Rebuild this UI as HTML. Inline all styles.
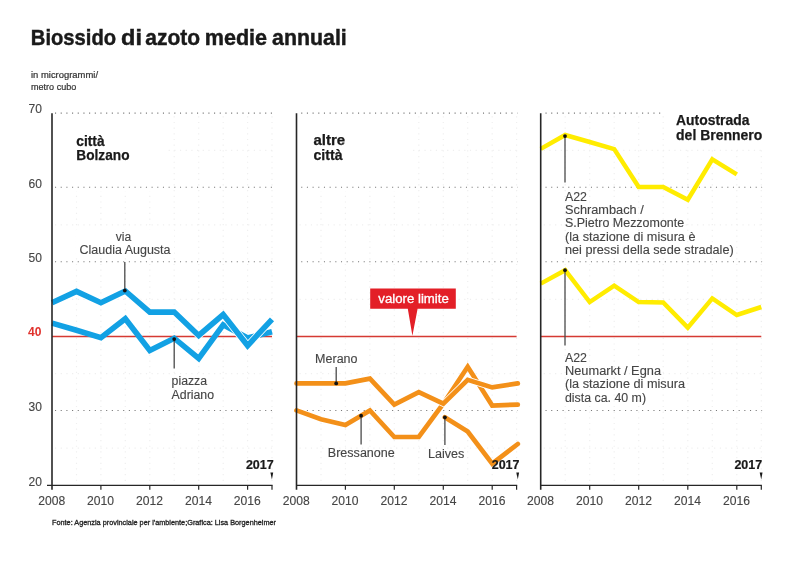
<!DOCTYPE html>
<html lang="it"><head><meta charset="utf-8"><title>Biossido di azoto medie annuali</title>
<style>
html,body{margin:0;padding:0;background:#fff;}
body{width:800px;height:565px;overflow:hidden;font-family:"Liberation Sans",sans-serif;}
svg{display:block;}
text{font-family:"Liberation Sans",sans-serif;}
.t{fill:#454545;font-size:12px;stroke:#454545;stroke-width:0.12px;}
.b{fill:#1a1a1a;font-weight:bold;}
</style></head><body>
<svg width="800" height="565" viewBox="0 0 800 565">
<rect width="800" height="565" fill="#fff"/>

<text class="b" y="45" style="font-size:22px;stroke:#1a1a1a;stroke-width:0.45"><tspan x="30.8" textLength="85.3" lengthAdjust="spacingAndGlyphs">Biossido</tspan> <tspan x="121.1" textLength="20.9" lengthAdjust="spacingAndGlyphs">di</tspan> <tspan x="145.3" textLength="54.8" lengthAdjust="spacingAndGlyphs">azoto</tspan> <tspan x="204.7" textLength="62.4" lengthAdjust="spacingAndGlyphs">medie</tspan> <tspan x="272.1" textLength="74.7" lengthAdjust="spacingAndGlyphs">annuali</tspan></text>
<text class="t" x="31" y="78.4" textLength="67" lengthAdjust="spacingAndGlyphs" style="font-size:8.5px;fill:#333;stroke:#333;stroke-width:0.2">in microgrammi/</text>
<text class="t" x="31" y="89.7" textLength="45.3" lengthAdjust="spacingAndGlyphs" style="font-size:8.5px;fill:#333;stroke:#333;stroke-width:0.2">metro cubo</text>
<g stroke="#efefef" stroke-width="1.2" stroke-dasharray="1.2 4.48" fill="none">
<path d="M76.5 116.2V483.4"/>
<path d="M100.9 116.2V483.4"/>
<path d="M125.3 116.2V483.4"/>
<path d="M149.8 116.2V483.4"/>
<path d="M174.2 116.2V483.4"/>
<path d="M198.7 116.2V483.4"/>
<path d="M223.2 116.2V483.4"/>
<path d="M247.6 116.2V483.4"/>
<path d="M272.0 116.2V483.4"/>
<path d="M55.0 150.4H272.0"/>
<path d="M55.0 224.9H272.0"/>
<path d="M55.0 299.3H272.0"/>
<path d="M55.0 373.7H272.0"/>
<path d="M55.0 448.2H272.0"/>
</g>
<g stroke="#efefef" stroke-width="1.2" stroke-dasharray="1.2 4.48" fill="none">
<path d="M321.0 116.2V483.4"/>
<path d="M345.4 116.2V483.4"/>
<path d="M369.9 116.2V483.4"/>
<path d="M394.3 116.2V483.4"/>
<path d="M418.8 116.2V483.4"/>
<path d="M443.3 116.2V483.4"/>
<path d="M467.7 116.2V483.4"/>
<path d="M492.2 116.2V483.4"/>
<path d="M516.6 116.2V483.4"/>
<path d="M299.5 150.4H516.6"/>
<path d="M299.5 224.9H516.6"/>
<path d="M299.5 299.3H516.6"/>
<path d="M299.5 373.7H516.6"/>
<path d="M299.5 448.2H516.6"/>
</g>
<g stroke="#efefef" stroke-width="1.2" stroke-dasharray="1.2 4.48" fill="none">
<path d="M565.2 116.2V483.4"/>
<path d="M589.7 116.2V483.4"/>
<path d="M614.2 116.2V483.4"/>
<path d="M638.7 116.2V483.4"/>
<path d="M663.2 116.2V483.4"/>
<path d="M687.8 116.2V483.4"/>
<path d="M712.3 116.2V483.4"/>
<path d="M736.8 116.2V483.4"/>
<path d="M761.3 116.2V483.4"/>
<path d="M543.7 150.4H761.3"/>
<path d="M543.7 224.9H761.3"/>
<path d="M543.7 299.3H761.3"/>
<path d="M543.7 373.7H761.3"/>
<path d="M543.7 448.2H761.3"/>
</g>
<g fill="#fff">
<rect x="54" y="115" width="112" height="76"/>
<rect x="298" y="115" width="112" height="76"/>
<rect x="665" y="105" width="110" height="42"/>
<rect x="76" y="230" width="98" height="28"/>
</g>
<g stroke="#787878" stroke-width="1.15" stroke-dasharray="1.1 4.58" fill="none">
<path d="M55.0 113.1H272.8"/>
<path d="M55.0 187.2H272.8"/>
<path d="M55.0 261.7H272.8"/>
<path d="M55.0 410.5H272.8"/>
</g>
<g stroke="#787878" stroke-width="1.15" stroke-dasharray="1.1 4.58" fill="none">
<path d="M301.2 113.1H517.4"/>
<path d="M301.2 187.2H517.4"/>
<path d="M301.2 261.7H517.4"/>
<path d="M301.2 410.5H517.4"/>
</g>
<g stroke="#787878" stroke-width="1.15" stroke-dasharray="1.1 4.58" fill="none">
<path d="M545.5 113.1H664.8"/>
<path d="M545.5 187.2H762.1"/>
<path d="M545.5 261.7H762.1"/>
<path d="M545.5 410.5H762.1"/>
</g>
<path d="M52.0 336.6H272.0" stroke="#d53a33" stroke-width="1.5" fill="none"/>
<path d="M296.5 336.6H516.6" stroke="#d53a33" stroke-width="1.5" fill="none"/>
<path d="M540.7 336.6H761.3" stroke="#d53a33" stroke-width="1.5" fill="none"/>
<path d="M52.0 323.1 L76.5 330.3 L100.9 337.6 L125.3 318.7 L149.8 350.5 L174.2 338.2 L198.7 358.5 L223.2 324.9 L247.6 338.0 L272.0 331.7" stroke="#12a1e4" stroke-width="5.6" fill="none" stroke-linejoin="miter" stroke-linecap="butt"/>
<path d="M52.0 302.7 L76.5 291.4 L100.9 302.7 L125.3 291.0 L149.8 312.1 L174.2 312.1 L198.7 335.5 L223.2 314.6 L247.6 345.6 L272.0 319.4" stroke="#fff" stroke-width="7.199999999999999" fill="none" stroke-linejoin="miter" stroke-linecap="butt"/>
<path d="M52.0 302.7 L76.5 291.4 L100.9 302.7 L125.3 291.0 L149.8 312.1 L174.2 312.1 L198.7 335.5 L223.2 314.6 L247.6 345.6 L272.0 319.4" stroke="#12a1e4" stroke-width="5.6" fill="none" stroke-linejoin="miter" stroke-linecap="butt"/>
<path d="M296.5 410.4 L321.0 419.3 L345.4 425.0 L369.9 410.4 L394.3 437.0 L418.8 437.0 L443.3 403.7 L467.7 366.8 L492.2 405.5 L517.8 404.6" stroke="#f39019" stroke-width="4.7" fill="none" stroke-linejoin="miter" stroke-linecap="round"/>
<path d="M444.8 417.3 L467.7 431.5 L492.2 463.7 L517.8 444.0" stroke="#f39019" stroke-width="4.7" fill="none" stroke-linejoin="miter" stroke-linecap="round"/>
<path d="M296.5 383.4 L321.0 383.4 L345.4 383.4 L369.9 378.6 L394.3 404.6 L418.8 392.2 L443.3 403.7 L467.7 379.8 L492.2 387.4 L517.8 383.4" stroke="#fff" stroke-width="6.300000000000001" fill="none" stroke-linejoin="miter" stroke-linecap="round"/>
<path d="M296.5 383.4 L321.0 383.4 L345.4 383.4 L369.9 378.6 L394.3 404.6 L418.8 392.2 L443.3 403.7 L467.7 379.8 L492.2 387.4 L517.8 383.4" stroke="#f39019" stroke-width="4.7" fill="none" stroke-linejoin="miter" stroke-linecap="round"/>
<path d="M540.7 148.9 L565.2 135.0 L589.7 142.0 L614.2 149.1 L638.7 187.0 L663.2 187.0 L687.8 199.7 L712.3 159.4 L736.8 174.3" stroke="#ffec00" stroke-width="4.5" fill="none" stroke-linejoin="miter" stroke-linecap="butt"/>
<path d="M540.7 283.6 L565.2 270.2 L589.7 302.0 L614.2 285.7 L638.7 302.0 L663.2 302.5 L687.8 327.6 L712.3 298.4 L736.8 315.0 L761.3 307.0" stroke="#ffec00" stroke-width="4.5" fill="none" stroke-linejoin="miter" stroke-linecap="butt"/>
<g stroke="#262626" fill="none">
<path d="M52.0 113.2V489.8" stroke-width="1.6"/>
<path d="M47.0 485.4H272.6" stroke-width="1.2"/>
<path d="M100.9 485.4v4.4" stroke-width="1.2"/>
<path d="M149.8 485.4v4.4" stroke-width="1.2"/>
<path d="M198.7 485.4v4.4" stroke-width="1.2"/>
<path d="M247.6 485.4v4.4" stroke-width="1.2"/>
<path d="M272.0 485.4v4.4" stroke-width="1.2"/>
</g>
<text class="t" x="51.7" y="505.2" text-anchor="middle" textLength="27" lengthAdjust="spacingAndGlyphs">2008</text>
<text class="t" x="100.6" y="505.2" text-anchor="middle" textLength="27" lengthAdjust="spacingAndGlyphs">2010</text>
<text class="t" x="149.5" y="505.2" text-anchor="middle" textLength="27" lengthAdjust="spacingAndGlyphs">2012</text>
<text class="t" x="198.4" y="505.2" text-anchor="middle" textLength="27" lengthAdjust="spacingAndGlyphs">2014</text>
<text class="t" x="247.3" y="505.2" text-anchor="middle" textLength="27" lengthAdjust="spacingAndGlyphs">2016</text>
<text class="b" x="273.7" y="468.8" text-anchor="end" textLength="27.8" lengthAdjust="spacingAndGlyphs" style="font-size:12px;stroke:#1a1a1a;stroke-width:0.2">2017</text>
<path d="M270.4 472.5h2.8l-1.3 7z" fill="#1a1a1a"/>
<g stroke="#262626" fill="none">
<path d="M296.5 113.2V489.8" stroke-width="1.6"/>
<path d="M296.5 485.4H517.2" stroke-width="1.2"/>
<path d="M345.4 485.4v4.4" stroke-width="1.2"/>
<path d="M394.3 485.4v4.4" stroke-width="1.2"/>
<path d="M443.3 485.4v4.4" stroke-width="1.2"/>
<path d="M492.2 485.4v4.4" stroke-width="1.2"/>
<path d="M516.6 485.4v4.4" stroke-width="1.2"/>
</g>
<text class="t" x="296.2" y="505.2" text-anchor="middle" textLength="27" lengthAdjust="spacingAndGlyphs">2008</text>
<text class="t" x="345.1" y="505.2" text-anchor="middle" textLength="27" lengthAdjust="spacingAndGlyphs">2010</text>
<text class="t" x="394.0" y="505.2" text-anchor="middle" textLength="27" lengthAdjust="spacingAndGlyphs">2012</text>
<text class="t" x="443.0" y="505.2" text-anchor="middle" textLength="27" lengthAdjust="spacingAndGlyphs">2014</text>
<text class="t" x="491.9" y="505.2" text-anchor="middle" textLength="27" lengthAdjust="spacingAndGlyphs">2016</text>
<text class="b" x="519.5" y="468.8" text-anchor="end" textLength="27.8" lengthAdjust="spacingAndGlyphs" style="font-size:12px;stroke:#1a1a1a;stroke-width:0.2">2017</text>
<path d="M516.3 472.5h2.8l-1.3 7z" fill="#1a1a1a"/>
<g stroke="#262626" fill="none">
<path d="M540.7 113.2V489.8" stroke-width="1.6"/>
<path d="M540.7 485.4H761.9" stroke-width="1.2"/>
<path d="M589.7 485.4v4.4" stroke-width="1.2"/>
<path d="M638.7 485.4v4.4" stroke-width="1.2"/>
<path d="M687.8 485.4v4.4" stroke-width="1.2"/>
<path d="M736.8 485.4v4.4" stroke-width="1.2"/>
<path d="M761.3 485.4v4.4" stroke-width="1.2"/>
</g>
<text class="t" x="540.4" y="505.2" text-anchor="middle" textLength="27" lengthAdjust="spacingAndGlyphs">2008</text>
<text class="t" x="589.4" y="505.2" text-anchor="middle" textLength="27" lengthAdjust="spacingAndGlyphs">2010</text>
<text class="t" x="638.4" y="505.2" text-anchor="middle" textLength="27" lengthAdjust="spacingAndGlyphs">2012</text>
<text class="t" x="687.5" y="505.2" text-anchor="middle" textLength="27" lengthAdjust="spacingAndGlyphs">2014</text>
<text class="t" x="736.5" y="505.2" text-anchor="middle" textLength="27" lengthAdjust="spacingAndGlyphs">2016</text>
<text class="b" x="762.2" y="468.8" text-anchor="end" textLength="27.8" lengthAdjust="spacingAndGlyphs" style="font-size:12px;stroke:#1a1a1a;stroke-width:0.2">2017</text>
<path d="M759.7 472.5h2.8l-1.3 7z" fill="#1a1a1a"/>
<text class="t" x="41.9" y="113.1" text-anchor="end" textLength="13.4" lengthAdjust="spacingAndGlyphs">70</text>
<text class="t" x="41.9" y="187.5" text-anchor="end" textLength="13.4" lengthAdjust="spacingAndGlyphs">60</text>
<text class="t" x="41.9" y="262.0" text-anchor="end" textLength="13.4" lengthAdjust="spacingAndGlyphs">50</text>
<text class="t" x="41.9" y="410.9" text-anchor="end" textLength="13.4" lengthAdjust="spacingAndGlyphs">30</text>
<text class="t" x="41.9" y="486.1" text-anchor="end" textLength="13.4" lengthAdjust="spacingAndGlyphs">20</text>
<text class="b" x="41.5" y="335.7" text-anchor="end" textLength="13.4" lengthAdjust="spacingAndGlyphs" style="font-size:12px;fill:#e0322d">40</text>
<text class="b" x="76.3" y="145.7" textLength="28.3" lengthAdjust="spacingAndGlyphs" style="font-size:14px;stroke:#1a1a1a;stroke-width:0.25">città</text>
<text class="b" x="76.3" y="160.3" textLength="53.2" lengthAdjust="spacingAndGlyphs" style="font-size:14px;stroke:#1a1a1a;stroke-width:0.25">Bolzano</text>
<text class="b" x="313.5" y="144.9" textLength="31.7" lengthAdjust="spacingAndGlyphs" style="font-size:14px;stroke:#1a1a1a;stroke-width:0.25">altre</text>
<text class="b" x="313.5" y="159.5" textLength="29" lengthAdjust="spacingAndGlyphs" style="font-size:14px;stroke:#1a1a1a;stroke-width:0.25">città</text>
<text class="b" x="676.1" y="124.8" textLength="73.3" lengthAdjust="spacingAndGlyphs" style="font-size:14px;stroke:#1a1a1a;stroke-width:0.25">Autostrada</text>
<text class="b" x="676.1" y="139.7" textLength="86.1" lengthAdjust="spacingAndGlyphs" style="font-size:14px;stroke:#1a1a1a;stroke-width:0.25">del Brennero</text>
<path d="M124.8 261.9V290.6" stroke="#4a4a4a" stroke-width="1.3" fill="none"/>
<circle cx="124.8" cy="290.6" r="1.9" fill="#111"/>
<path d="M174.2 339.1V368.4" stroke="#4a4a4a" stroke-width="1.3" fill="none"/>
<circle cx="174.2" cy="339.1" r="1.9" fill="#111"/>
<path d="M336.2 366.9V383.4" stroke="#4a4a4a" stroke-width="1.3" fill="none"/>
<circle cx="336.2" cy="383.4" r="1.9" fill="#111"/>
<path d="M361.1 415.7V444.6" stroke="#4a4a4a" stroke-width="1.3" fill="none"/>
<circle cx="361.1" cy="415.7" r="1.9" fill="#111"/>
<path d="M444.9 417.3V445" stroke="#4a4a4a" stroke-width="1.3" fill="none"/>
<circle cx="444.9" cy="417.3" r="1.9" fill="#111"/>
<path d="M565 136.1V182.5" stroke="#4a4a4a" stroke-width="1.3" fill="none"/>
<circle cx="565" cy="136.1" r="1.9" fill="#111"/>
<path d="M565 270.2V345.5" stroke="#4a4a4a" stroke-width="1.3" fill="none"/>
<circle cx="565" cy="270.2" r="1.9" fill="#111"/>
<text class="t" x="123.5" y="240.6" text-anchor="middle" textLength="15.5" lengthAdjust="spacingAndGlyphs">via</text>
<text class="t" x="125" y="254.4" text-anchor="middle" textLength="91" lengthAdjust="spacingAndGlyphs">Claudia Augusta</text>
<text class="t" x="171.6" y="385.2" textLength="35.5" lengthAdjust="spacingAndGlyphs">piazza</text>
<text class="t" x="171.6" y="398.6" textLength="42.5" lengthAdjust="spacingAndGlyphs">Adriano</text>
<text class="t" x="315.1" y="363.1" textLength="42.4" lengthAdjust="spacingAndGlyphs">Merano</text>
<text class="t" x="327.8" y="457.4" textLength="67" lengthAdjust="spacingAndGlyphs">Bressanone</text>
<text class="t" x="427.9" y="458.4" textLength="36.4" lengthAdjust="spacingAndGlyphs">Laives</text>
<text class="t" x="565" y="200.9" textLength="22" lengthAdjust="spacingAndGlyphs">A22</text>
<text class="t" x="565" y="214.15" textLength="78.7" lengthAdjust="spacingAndGlyphs">Schrambach /</text>
<text class="t" x="565" y="227.4" textLength="119.2" lengthAdjust="spacingAndGlyphs">S.Pietro Mezzomonte</text>
<text class="t" x="565" y="240.6" textLength="130.5" lengthAdjust="spacingAndGlyphs">(la stazione di misura è</text>
<text class="t" x="565" y="253.8" textLength="168.7" lengthAdjust="spacingAndGlyphs">nei pressi della sede stradale)</text>
<text class="t" x="565" y="361.65" textLength="22" lengthAdjust="spacingAndGlyphs">A22</text>
<text class="t" x="565" y="374.9" textLength="96" lengthAdjust="spacingAndGlyphs">Neumarkt / Egna</text>
<text class="t" x="565" y="388.3" textLength="120" lengthAdjust="spacingAndGlyphs">(la stazione di misura</text>
<text class="t" x="565" y="401.65" textLength="81" lengthAdjust="spacingAndGlyphs">dista ca. 40 m)</text>
<path d="M370.2 288.5H455.8V308.7H417.6L412.4 335.8L407.8 308.7H370.2Z" fill="#e31f27"/>
<text class="t" x="378.3" y="302.8" textLength="70.5" lengthAdjust="spacingAndGlyphs" style="fill:#fff;font-size:12px;stroke:#fff;stroke-width:0.3">valore limite</text>
<text class="t" x="52" y="524.9" textLength="224" lengthAdjust="spacingAndGlyphs" style="font-size:7.5px;fill:#222;stroke:#222;stroke-width:0.3">Fonte: Agenzia provinciale per l'ambiente;Grafica: Lisa Borgenheimer</text>
</svg></body></html>
